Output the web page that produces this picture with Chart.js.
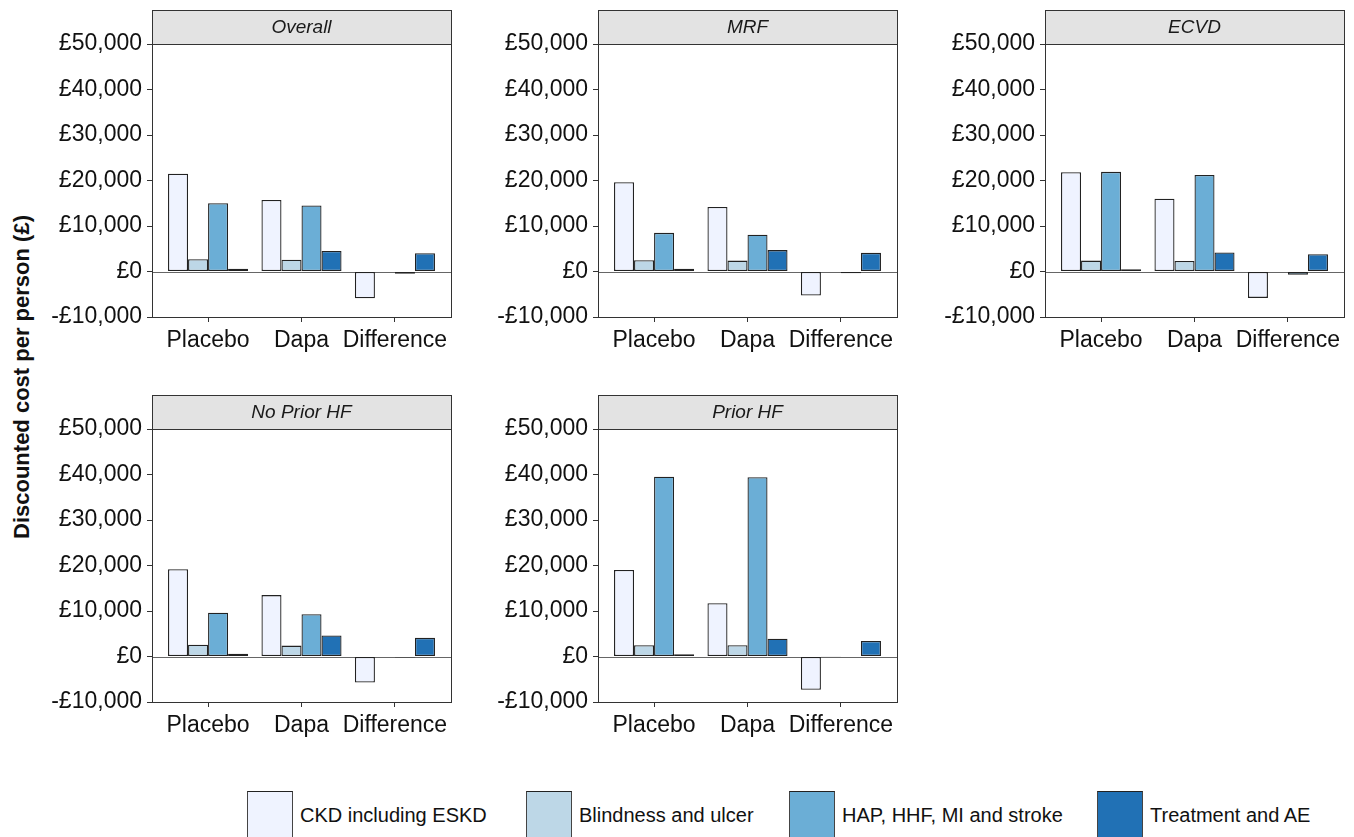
<!DOCTYPE html>
<html>
<head>
<meta charset="utf-8">
<script src="https://cdn.jsdelivr.net/npm/chart.js@4"></script>
<style>
  body { margin: 0; background: #fff; font-family: "Liberation Sans", Arial, sans-serif; }
  #page { position: relative; width: 1354px; height: 837px; overflow: hidden; }
  canvas { position: absolute; }
  #ytitle {
    position: absolute; left: 22px; top: 377px; white-space: nowrap;
    font-weight: bold; font-size: 22px; color: #111;
    transform: translate(-50%, -50%) rotate(-90deg);
  }
  .key { position: absolute; top: 791px; width: 46px; height: 60px; border: 1px solid #444; border-top-color: #222; box-sizing: border-box; }
  .key-label { position: absolute; top: 804px; font-size: 20px; color: #111; white-space: nowrap; line-height: 22px; }
</style>
</head>
<body>
<div id="page">
  <div id="ytitle">Discounted cost per person (£)</div>
</div>
<script>
const groups = ["Placebo", "Dapa", "Difference"]
const components = ["CKD including ESKD", "Blindness and ulcer", "HAP, HHF, MI and stroke", "Treatment and AE"]
const componentColors = ["#eff3ff", "#bdd7e7", "#6baed6", "#2171b5"]
const yTicks = [-10000, 0, 10000, 20000, 30000, 40000, 50000]

// one row per component: Placebo, Dapa, Difference
const overallCost = [
  [21500, 15700, -5900],
  [2700, 2600, -100],
  [15000, 14500, -500],
  [600, 4500, 4000],
]
const mrfCost = [
  [19600, 14200, -5300],
  [2500, 2400, -100],
  [8500, 8100, -400],
  [600, 4700, 4100],
]
const ecvdCost = [
  [21800, 16000, -5800],
  [2400, 2300, -100],
  [21900, 21200, -700],
  [500, 4200, 3800],
]
const noPriorHfCost = [
  [19200, 13500, -5700],
  [2600, 2400, -100],
  [9600, 9300, -200],
  [600, 4600, 4100],
]
const priorHfCost = [
  [19000, 11700, -7300],
  [2500, 2500, -50],
  [39500, 39400, -100],
  [500, 3900, 3400],
]

const panels = [
  { name: "Overall", values: overallCost, left: 1, top: 0 },
  { name: "MRF", values: mrfCost, left: 447, top: 0 },
  { name: "ECVD", values: ecvdCost, left: 894, top: 0 },
  { name: "No Prior HF", values: noPriorHfCost, left: 1, top: 385 },
  { name: "Prior HF", values: priorHfCost, left: 447, top: 385 },
]

const FONT = "'Liberation Sans', Arial, sans-serif"
const STRIP_H = 34

const pound = (v) => (v < 0 ? "-£" : "£") + Math.abs(v).toLocaleString("en-GB")

// grey facet strip, panel frame and zero reference line
const facetPlugin = {
  id: "facet",
  beforeDatasetsDraw(chart) {
    const { ctx, chartArea: a, scales } = chart
    const y0 = Math.round(scales.y.getPixelForValue(0)) + 0.5
    ctx.save()
    ctx.strokeStyle = "#666"
    ctx.lineWidth = 1
    ctx.beginPath()
    ctx.moveTo(a.left, y0)
    ctx.lineTo(a.right, y0)
    ctx.stroke()
    ctx.restore()
  },
  afterDraw(chart, args, opts) {
    const { ctx, chartArea: a } = chart
    ctx.save()
    ctx.lineWidth = 1
    ctx.strokeStyle = "#333"
    ctx.fillStyle = "#e3e3e3"
    ctx.fillRect(a.left, a.top - STRIP_H, a.right - a.left, STRIP_H)
    ctx.strokeRect(Math.round(a.left) + 0.5, Math.round(a.top - STRIP_H) + 0.5, Math.round(a.right - a.left), STRIP_H)
    ctx.strokeRect(Math.round(a.left) + 0.5, Math.round(a.top) + 0.5, Math.round(a.right - a.left), Math.round(a.bottom - a.top))
    ctx.fillStyle = "#1a1a1a"
    ctx.font = `italic 19px ${FONT}`
    ctx.textAlign = "center"
    ctx.textBaseline = "middle"
    ctx.fillText(opts.title, (a.left + a.right) / 2, a.top - STRIP_H / 2 + 1)
    ctx.restore()
  },
}

const page = document.getElementById("page")

panels.forEach((panel) => {
  const canvas = document.createElement("canvas")
  canvas.width = 460
  canvas.height = 360
  canvas.style.left = panel.left + "px"
  canvas.style.top = panel.top + "px"
  page.appendChild(canvas)

  const datasets = components.map((label, c) => ({
    label,
    data: groups.map((g, i) => ({ x: i + 1, y: panel.values[c][i] })),
    backgroundColor: componentColors[c],
    borderColor: "#222",
    borderWidth: 1.3,
    borderSkipped: false,
    categoryPercentage: 0.857,
    barPercentage: 1,
  }))

  new Chart(canvas, {
    type: "bar",
    data: { datasets },
    plugins: [facetPlugin],
    options: {
      responsive: false,
      animation: false,
      events: [],
      layout: { padding: { top: 44, right: 10, left: 0, bottom: 0 } },
      plugins: {
        legend: { display: false },
        tooltip: { enabled: false },
        facet: { title: panel.name },
      },
      scales: {
        x: {
          type: "linear",
          min: 0.4,
          max: 3.6,
          offset: false,
          afterBuildTicks: (scale) => { scale.ticks = groups.map((g, i) => ({ value: i + 1 })) },
          afterFit: (scale) => { scale.height = 43 },
          grid: { offset: false, drawOnChartArea: false, drawTicks: true, tickLength: 5, color: "#333" },
          border: { display: true, color: "#333" },
          ticks: {
            padding: 5,
            color: "#111",
            font: { family: FONT, size: 23 },
            maxRotation: 0,
            autoSkip: false,
            callback: (v) => groups[v - 1],
          },
        },
        y: {
          min: -10000,
          max: 50000,
          afterBuildTicks: (scale) => { scale.ticks = yTicks.map((v) => ({ value: v })) },
          afterFit: (scale) => { scale.width = 151 },
          grid: { drawOnChartArea: false, drawTicks: true, tickLength: 5, color: "#333" },
          border: { display: true, color: "#333" },
          ticks: {
            padding: 5,
            color: "#111",
            font: { family: FONT, size: 23 },
            callback: (v) => pound(v),
          },
        },
      },
    },
  })
})

// legend along the bottom
const keyLefts = [247, 526, 789, 1097]
components.forEach((label, c) => {
  const box = document.createElement("div")
  box.className = "key"
  box.style.left = keyLefts[c] + "px"
  box.style.background = componentColors[c]
  page.appendChild(box)
  const text = document.createElement("div")
  text.className = "key-label"
  text.style.left = keyLefts[c] + 53 + "px"
  text.textContent = label
  page.appendChild(text)
})
</script>
</body>
</html>
